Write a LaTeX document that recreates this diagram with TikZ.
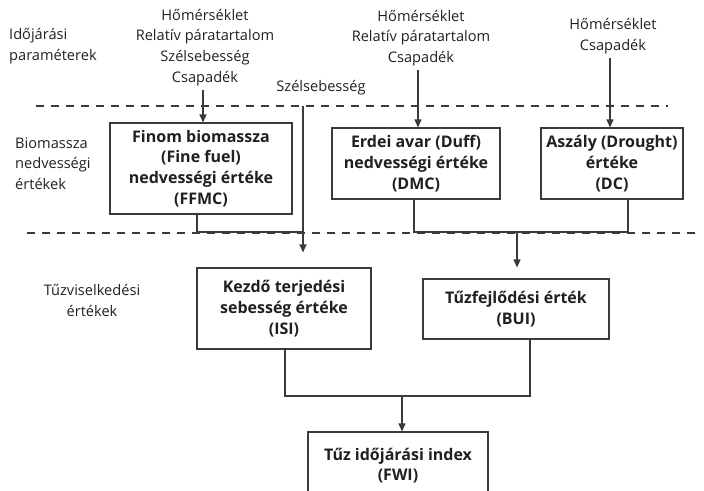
\documentclass[tikz,border=0pt]{standalone}
\usepackage{fontspec}
\setmainfont{Open Sans}
\usetikzlibrary{arrows.meta}
\definecolor{ink}{HTML}{231F20}
\definecolor{ln}{HTML}{3A3A3A}
\tikzset{
  txt/.style={align=center, inner sep=0pt, text=ink, font=\fontsize{14.6}{20.7}\selectfont},
  ltxt/.style={align=left, inner sep=0pt, text=ink, anchor=west, font=\fontsize{14.6}{20.7}\selectfont},
  stagebox/.style={draw=ln, line width=1.1pt, fill=white, align=center, inner sep=0pt, text=ink,
    font=\bfseries\fontsize{16}{20.7}\selectfont},
  conn/.style={draw=ln, line width=1.1pt},
  arr/.style={conn, -{Triangle[length=8pt,width=7pt]}},
  sep/.style={draw=ln, line width=1.1pt, dash pattern=on 8pt off 7pt},
}
\begin{document}
\begin{tikzpicture}[x=1pt,y=-1pt]
\useasboundingbox (0,0) rectangle (704,490);
\clip (0,0) rectangle (704,490);

% dashed separators
\coordinate (d1a) at (36,106);
\coordinate (d1b) at (668,106);
\coordinate (d2a) at (27,233);
\coordinate (d2b) at (700,233);
\draw[sep] (d1a) -- (d1b);
\draw[sep] (d2a) -- (d2b);

% row labels
\node[ltxt] (lab1) at (9,46) {Időjárási\\paraméterek};
\node[ltxt] (lab2) at (15,163.5) {Biomassza\\nedvességi\\értékek};
\node[txt] (lab3) at (92,300.5) {Tűzviselkedési\\értékek};

% inputs
\node[txt] (in1) at (205,47.5) {Hőmérséklet\\Relatív páratartalom\\Szélsebesség\\Csapadék};
\node[txt] (in2) at (421,38) {Hőmérséklet\\Relatív páratartalom\\Csapadék};
\node[txt] (in3) at (613,36) {Hőmérséklet\\Csapadék};
\node[txt] (wind) at (321,88) {Szélsebesség};

% boxes
\node[stagebox, minimum width=182pt, minimum height=91pt] (ffmc) at (201,168.5)
  {Finom biomassza\\(Fine fuel)\\nedvességi értéke\\(FFMC)};
\node[stagebox, minimum width=168pt, minimum height=71pt] (dmc) at (416,163.5)
  {Erdei avar (Duff)\\nedvességi értéke\\(DMC)};
\node[stagebox, minimum width=142pt, minimum height=71pt] (dc) at (612,163.5)
  {Aszály (Drought)\\értéke\\(DC)};
\node[stagebox, minimum width=174pt, minimum height=81pt] (isi) at (284,308.5)
  {Kezdő terjedési\\sebesség értéke\\(ISI)};
\node[stagebox, minimum width=186pt, minimum height=60pt] (bui) at (516,309)
  {Tűzfejlődési érték\\(BUI)};
\node[stagebox, minimum width=180pt, minimum height=67pt] (fwi) at (398,465.5)
  {Tűz időjárási index\\(FWI)};

% input arrows
\draw[arr] ([xshift=-2pt,yshift=-4pt]in1.south) -- ([xshift=-2pt]in1.south |- ffmc.north);
\draw[arr] ([xshift=-3pt,yshift=-4pt]in2.south) -- ([xshift=-3pt]in2.south |- dmc.north);
\draw[arr] ([xshift=-3pt,yshift=-4pt]in3.south) -- ([xshift=-3pt]in3.south |- dc.north);

% wind line to ISI
\coordinate (ws) at (303,106);
\coordinate (j0) at (303,232);
\draw[arr, shorten >=15pt] (ws) -- (ws |- isi.north);
\draw[conn] ([xshift=-4pt]ffmc.south) |- (j0);

% DMC + DC to BUI
\coordinate (j1) at (517,232);
\draw[conn] ([xshift=-2pt]dmc.south) |- (j1);
\draw[conn] ([xshift=16pt]dc.south) |- (j1);
\draw[arr, shorten >=11pt] (j1) -- (j1 |- bui.north);

% ISI + BUI to FWI
\coordinate (j2) at (402,396);
\draw[conn] ([xshift=1pt]isi.south) |- (j2);
\draw[conn] ([xshift=14pt]bui.south) |- (j2);
\draw[arr] (j2) -- (j2 |- fwi.north);
\end{tikzpicture}
\end{document}
